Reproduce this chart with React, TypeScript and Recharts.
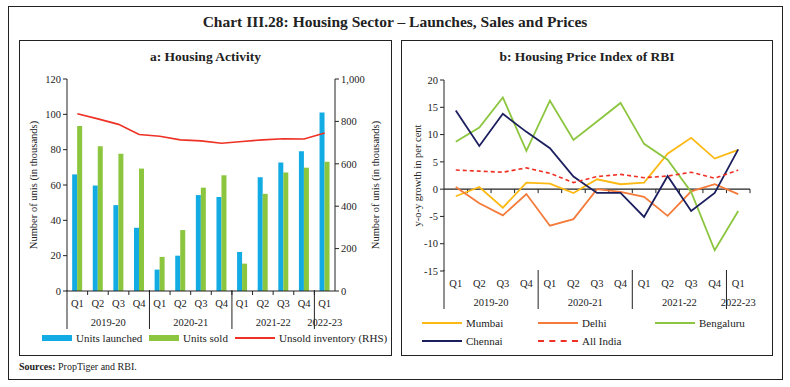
import React from "react";
import { ComposedChart, Bar, Line, XAxis, YAxis, ReferenceLine } from "recharts";

// quarters from 2019-20 Q1 to 2022-23 Q1
const quarters = ["Q1", "Q2", "Q3", "Q4", "Q1", "Q2", "Q3", "Q4", "Q1", "Q2", "Q3", "Q4", "Q1"];
const years = ["2019-20", "2020-21", "2021-22", "2022-23"];

// a: Housing Activity (thousand units)
const launched = [66, 59.7, 48.6, 35.8, 12.1, 20, 54.3, 53.2, 22.1, 64.4, 72.8, 79.1, 101];
const sold = [93.4, 82, 77.7, 69.3, 19.3, 34.5, 58.5, 65.5, 15.5, 55, 67.1, 69.8, 73.2];
const unsold = [836, 812, 786, 738, 730, 713, 708, 697, 705, 713, 718, 717, 745];

// b: Housing Price Index of RBI (y-o-y, per cent)
const mumbai = [-1.3, 0.4, -3.4, 1.2, 1.0, -0.7, 1.8, 0.9, 1.2, 6.5, 9.4, 5.6, 7.2];
const delhi = [0.4, -2.6, -4.8, -0.9, -6.7, -5.5, 0, -0.5, -1.4, -4.9, -0.4, 0.9, -0.9];
const bengaluru = [8.7, 11.3, 16.8, 7.0, 16.2, 9.0, 12.4, 15.8, 8.3, 5.4, -0.5, -11.2, -4.0];
const chennai = [14.4, 7.9, 13.8, 10.5, 7.5, 2.3, -0.7, -0.7, -5.1, 2.4, -4.0, -0.7, 7.3];
const allIndia = [3.5, 3.3, 3.1, 3.9, 2.9, 1.2, 2.3, 2.7, 2.1, 2.4, 3.1, 2.0, 3.5];

const FONT = "'Liberation Serif', 'DejaVu Serif', serif";
const C_BLUE = "#12ABE3";
const C_GREEN = "#8CC63F";
const C_RED = "#EE3124";
const C_MUMBAI = "#FDB913";
const C_DELHI = "#F47B3A";
const C_CHENNAI = "#1C1F5E";

const yearOf = (i: number) => years[Math.floor(i / 4)];

const activityData = quarters.map((q, i) => ({
  key: `${q} ${yearOf(i)}`,
  launched: launched[i],
  sold: sold[i],
  unsold: unsold[i],
}));

const priceData = quarters.map((q, i) => ({
  key: `${q} ${yearOf(i)}`,
  mumbai: mumbai[i],
  delhi: delhi[i],
  bengaluru: bengaluru[i],
  chennai: chennai[i],
  allIndia: allIndia[i],
}));

// two-level category tick: quarter, year, separators at year starts
const QuarterYearTick = (props: any) => {
  const { x, y, payload, smallTicks } = props;
  const i = payload.index;
  const half = payload.offset || 10;
  const left = x - half;
  const els: any[] = [];
  els.push(
    <text key="q" x={x} y={y + 16} textAnchor="middle" fontSize={10.5} fill="#222" fontFamily={FONT}>
      {quarters[i]}
    </text>
  );
  if (smallTicks && i > 0) {
    els.push(<line key="t" x1={left} x2={left} y1={y} y2={y + 4} stroke="#222" />);
  }
  if (i % 4 === 0) {
    const count = Math.min(4, quarters.length - i);
    els.push(<line key="s" x1={left} x2={left} y1={y - 1} y2={y + 38} stroke="#222" />);
    els.push(
      <text key="y" x={left + half * count} y={y + 35} textAnchor="middle" fontSize={10.5} fill="#222" fontFamily={FONT}>
        {yearOf(i)}
      </text>
    );
  }
  return <g>{els}</g>;
};

const VLabel = ({ viewBox, value, dx }: any) => {
  const cx = viewBox.x + dx;
  const cy = viewBox.y + viewBox.height / 2;
  return (
    <text x={cx} y={cy} transform={`rotate(-90, ${cx}, ${cy})`} textAnchor="middle" dominantBaseline="central" fontSize={10.5} fill="#222" fontFamily={FONT}>
      {value}
    </text>
  );
};

// zero line with category boundary ticks
const ZeroLine = (props: any) => {
  const { x1, x2, y1 } = props;
  const step = (x2 - x1) / quarters.length;
  return (
    <g>
      <line x1={x1} x2={x2} y1={y1} y2={y1} stroke="#222" strokeWidth={1.2} />
      {quarters.map((_, i) => (
        <line key={i} x1={x1 + step * (i + 1)} x2={x1 + step * (i + 1)} y1={y1} y2={y1 + 4} stroke="#222" />
      ))}
    </g>
  );
};

const Swatch = ({ type, color }: { type: string; color: string }) => {
  if (type === "box") return <span style={{ display: "inline-block", width: 30, height: 6, background: color, marginRight: 4 }} />;
  if (type === "dash")
    return <span style={{ display: "inline-block", width: 40, height: 0, borderTop: `2px dashed ${color}`, marginRight: 4, verticalAlign: "middle" }} />;
  return <span style={{ display: "inline-block", width: 40, height: 2, background: color, marginRight: 4, verticalAlign: "middle" }} />;
};

const LegendItem = ({ left, top, type, color, label }: any) => (
  <div style={{ position: "absolute", left, top, display: "flex", alignItems: "center", fontSize: 11, color: "#222", whiteSpace: "nowrap" }}>
    <Swatch type={type} color={color} />
    <span>{label}</span>
  </div>
);

const tickStyle = { fontSize: 10.5, fill: "#222", fontFamily: FONT };

export default function App() {
  return (
    <div style={{ position: "absolute", left: 0, top: 0, width: 790, height: 387, background: "#fff", fontFamily: FONT }}>
      <div style={{ position: "absolute", left: 8, top: 6, width: 775, height: 374, border: "1.5px solid #222", boxSizing: "border-box" }} />
      <div style={{ position: "absolute", left: 0, top: 13, width: 790, textAlign: "center", fontSize: 15.5, fontWeight: "bold", color: "#222" }}>
        Chart III.28: Housing Sector – Launches, Sales and Prices
      </div>

      {/* panel a */}
      <div style={{ position: "absolute", left: 19, top: 40, width: 373, height: 316, border: "1.5px solid #222", boxSizing: "border-box" }} />
      <div style={{ position: "absolute", left: 19, top: 49, width: 373, textAlign: "center", fontSize: 13.5, fontWeight: "bold", color: "#222" }}>
        a: Housing Activity
      </div>
      <div style={{ position: "absolute", left: 19, top: 40 }}>
        <ComposedChart width={372} height={315} data={activityData} margin={{ top: 39, right: 16, left: 8, bottom: 14 }} barCategoryGap="25%" barGap={0}>
          <XAxis
            dataKey="key"
            scale="band"
            interval={0}
            height={50}
            tickSize={0}
            tickMargin={0}
            axisLine={{ stroke: "#222" }}
            tickLine={false}
            tick={<QuarterYearTick smallTicks />}
          />
          <YAxis
            yAxisId="l"
            width={40}
            domain={[0, 120]}
            ticks={[0, 20, 40, 60, 80, 100, 120]}
            tickSize={4}
            axisLine={{ stroke: "#222" }}
            tickLine={{ stroke: "#222" }}
            tick={tickStyle}
            label={<VLabel value="Number of unis (in thousands)" dx={6} />}
          />
          <YAxis
            yAxisId="r"
            orientation="right"
            width={40}
            domain={[0, 1000]}
            ticks={[0, 200, 400, 600, 800, 1000]}
            tickFormatter={(v: number) => v.toLocaleString("en-US")}
            tickSize={4}
            axisLine={{ stroke: "#222" }}
            tickLine={{ stroke: "#222" }}
            tick={tickStyle}
            label={<VLabel value="Number of  unis (in thousands)" dx={40} />}
          />
          <Bar yAxisId="l" dataKey="launched" fill={C_BLUE} isAnimationActive={false} />
          <Bar yAxisId="l" dataKey="sold" fill={C_GREEN} isAnimationActive={false} />
          <Line yAxisId="r" dataKey="unsold" type="linear" stroke={C_RED} strokeWidth={1.6} dot={false} isAnimationActive={false} />
        </ComposedChart>
      </div>
      <LegendItem left={42} top={332} type="box" color={C_BLUE} label="Units launched" />
      <LegendItem left={149} top={332} type="box" color={C_GREEN} label="Units sold" />
      <LegendItem left={235} top={332} type="line" color={C_RED} label="Unsold inventory (RHS)" />

      {/* panel b */}
      <div style={{ position: "absolute", left: 401, top: 40, width: 372, height: 316, border: "1.5px solid #222", boxSizing: "border-box" }} />
      <div style={{ position: "absolute", left: 401, top: 49, width: 372, textAlign: "center", fontSize: 13.5, fontWeight: "bold", color: "#222" }}>
        b: Housing Price Index of RBI
      </div>
      <div style={{ position: "absolute", left: 401, top: 40 }}>
        <ComposedChart width={372} height={315} data={priceData} margin={{ top: 40, right: 23, left: 8, bottom: 34 }}>
          <XAxis
            dataKey="key"
            scale="band"
            interval={0}
            height={50}
            tickSize={0}
            tickMargin={0}
            axisLine={false}
            tickLine={false}
            tick={<QuarterYearTick />}
          />
          <YAxis
            width={35}
            domain={[-15, 20]}
            ticks={[-15, -10, -5, 0, 5, 10, 15, 20]}
            tickSize={4}
            axisLine={{ stroke: "#222" }}
            tickLine={{ stroke: "#222" }}
            tick={tickStyle}
            label={<VLabel value="y-o-y growth in per cent" dx={8} />}
          />
          <ReferenceLine y={0} shape={<ZeroLine />} />
          <Line dataKey="mumbai" type="linear" stroke={C_MUMBAI} strokeWidth={1.8} dot={false} isAnimationActive={false} />
          <Line dataKey="delhi" type="linear" stroke={C_DELHI} strokeWidth={1.8} dot={false} isAnimationActive={false} />
          <Line dataKey="bengaluru" type="linear" stroke={C_GREEN} strokeWidth={1.8} dot={false} isAnimationActive={false} />
          <Line dataKey="chennai" type="linear" stroke={C_CHENNAI} strokeWidth={1.8} dot={false} isAnimationActive={false} />
          <Line dataKey="allIndia" type="linear" stroke={C_RED} strokeWidth={1.6} strokeDasharray="4 3" dot={false} isAnimationActive={false} />
        </ComposedChart>
      </div>
      <LegendItem left={422} top={317} type="line" color={C_MUMBAI} label="Mumbai" />
      <LegendItem left={538} top={317} type="line" color={C_DELHI} label="Delhi" />
      <LegendItem left={655} top={317} type="line" color={C_GREEN} label="Bengaluru" />
      <LegendItem left={422} top={335} type="line" color={C_CHENNAI} label="Chennai" />
      <LegendItem left={538} top={335} type="dash" color={C_RED} label="All India" />

      <div style={{ position: "absolute", left: 19, top: 361, fontSize: 10, color: "#222" }}>
        <b>Sources:</b> PropTiger and RBI.
      </div>
    </div>
  );
}
